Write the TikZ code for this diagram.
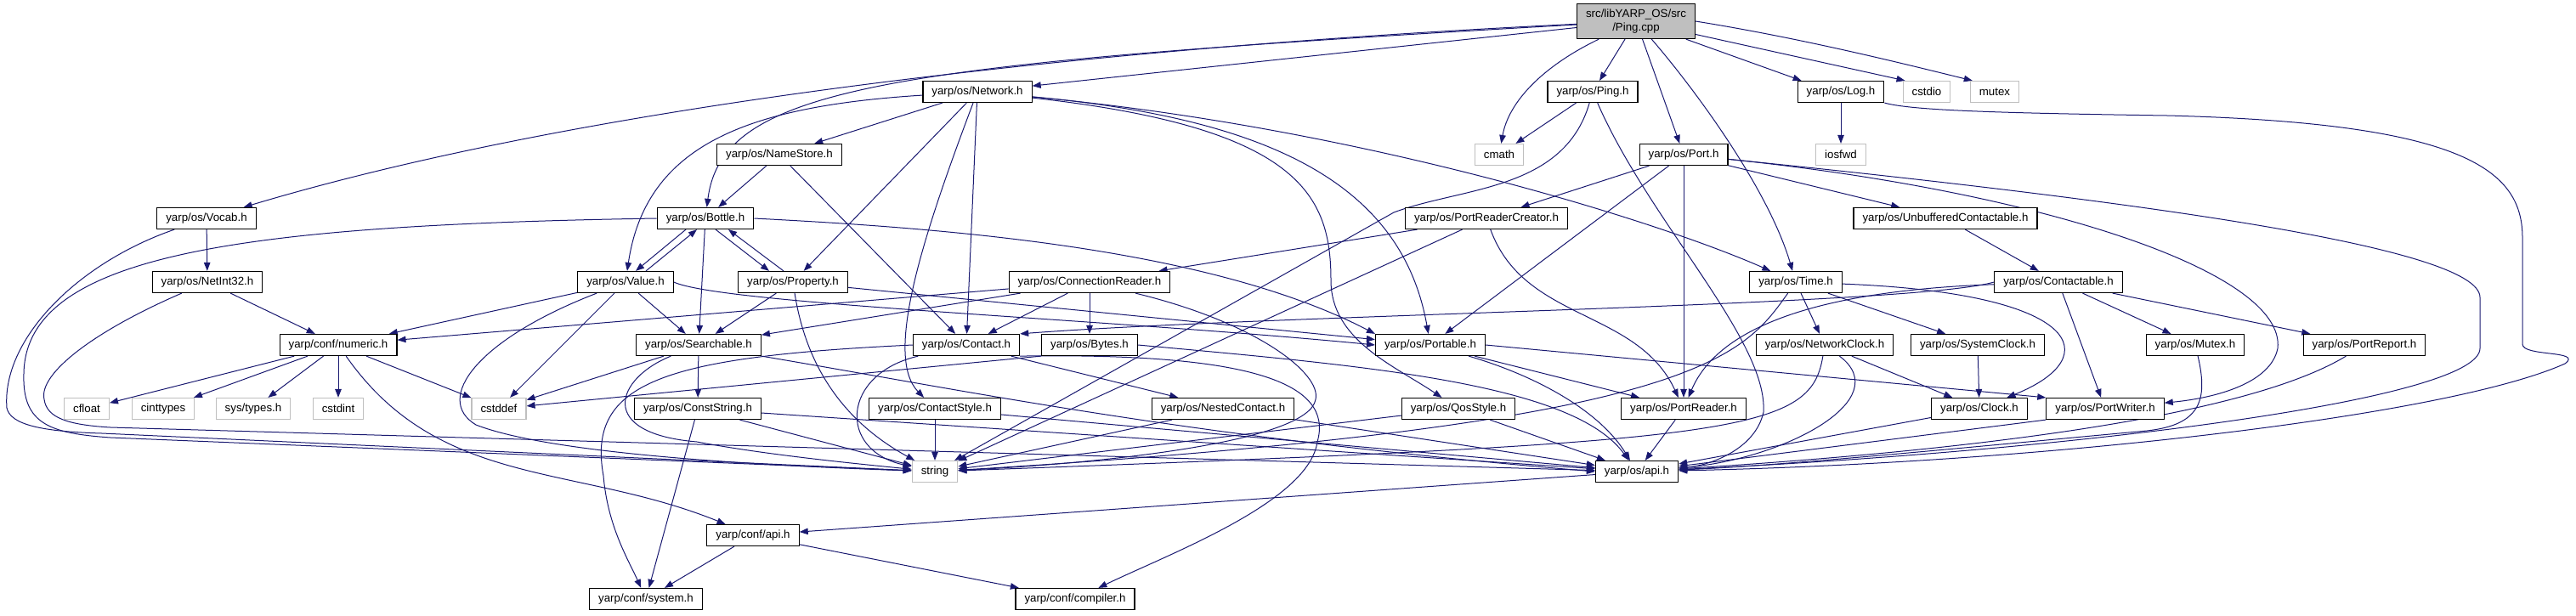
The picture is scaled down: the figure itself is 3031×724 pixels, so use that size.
\documentclass[tikz,border=0pt]{standalone}
\usepackage{fontspec}
\setmainfont{Liberation Sans}
\usetikzlibrary{arrows.meta}
\definecolor{edgeblue}{HTML}{191970}
\definecolor{boxgray}{HTML}{BFBFBF}
\pgfdeclarelayer{bg}
\pgfsetlayers{bg,main}

\begin{document}
\begin{tikzpicture}[x=1pt, y=1pt,
				hdr/.style={draw=black, line width=1.2pt, fill=white, inner xsep=10.5pt, inner ysep=0pt, minimum height=25pt, font=\fontsize{13.3}{15.5}\selectfont},
				sys/.style={hdr, draw=boxgray},
				root/.style={hdr, fill=boxgray, minimum height=41pt, align=center},
				edge/.style={draw=edgeblue, line width=1pt, -{Triangle[length=10pt,width=7.5pt]}}
				]
				\useasboundingbox (0,0) rectangle (3031,-724);
				
				\node[root] (pingcpp) at (1925,-25) {src/libYARP\_OS/src\\/Ping.cpp};
				\node[hdr] (network) at (1150,-108) {yarp/os/Network.h};
				\node[hdr] (pingh) at (1874,-108) {yarp/os/Ping.h};
				\node[hdr] (log) at (2166,-108) {yarp/os/Log.h};
				\node[sys] (cstdio) at (2267,-108) {cstdio};
				\node[sys] (mutex) at (2347,-108) {mutex};
				
				\node[hdr] (namestore) at (917,-182) {yarp/os/NameStore.h};
				\node[sys] (cmath) at (1764,-182) {cmath};
				\node[hdr] (port) at (1981,-182) {yarp/os/Port.h};
				\node[sys] (iosfwd) at (2166,-182) {iosfwd};
				
				\node[hdr] (vocab) at (243,-257) {yarp/os/Vocab.h};
				\node[hdr] (bottle) at (830,-257) {yarp/os/Bottle.h};
				\node[hdr] (prc) at (1749,-257) {yarp/os/PortReaderCreator.h};
				\node[hdr] (unbuf) at (2289,-257) {yarp/os/UnbufferedContactable.h};
				
				\node[hdr] (netint) at (244,-332) {yarp/os/NetInt32.h};
				\node[hdr] (value) at (736,-332) {yarp/os/Value.h};
				\node[hdr] (property) at (933,-332) {yarp/os/Property.h};
				\node[hdr] (connreader) at (1282,-332) {yarp/os/ConnectionReader.h};
				\node[hdr] (time) at (2113,-332) {yarp/os/Time.h};
				\node[hdr] (contactable) at (2422,-332) {yarp/os/Contactable.h};
				
				\node[hdr] (numeric) at (398,-406) {yarp/conf/numeric.h};
				\node[hdr] (searchable) at (822,-406) {yarp/os/Searchable.h};
				\node[hdr] (contact) at (1137,-406) {yarp/os/Contact.h};
				\node[hdr] (bytes) at (1282,-406) {yarp/os/Bytes.h};
				\node[hdr] (portable) at (1683,-406) {yarp/os/Portable.h};
				\node[hdr] (netclock) at (2147,-406) {yarp/os/NetworkClock.h};
				\node[hdr] (sysclock) at (2327,-406) {yarp/os/SystemClock.h};
				\node[hdr] (mutexh) at (2583,-406) {yarp/os/Mutex.h};
				\node[hdr] (portreport) at (2782,-406) {yarp/os/PortReport.h};
				
				\node[sys] (cfloat) at (102,-481) {cfloat};
				\node[sys] (cinttypes) at (192,-481) {cinttypes};
				\node[sys] (systypes) at (298,-481) {sys/types.h};
				\node[sys] (cstdint) at (398,-481) {cstdint};
				\node[sys] (cstddef) at (587,-481) {cstddef};
				\node[hdr] (conststring) at (821,-481) {yarp/os/ConstString.h};
				\node[hdr] (contactstyle) at (1100,-481) {yarp/os/ContactStyle.h};
				\node[hdr] (nested) at (1439,-481) {yarp/os/NestedContact.h};
				\node[hdr] (qos) at (1716,-481) {yarp/os/QosStyle.h};
				\node[hdr] (portreader) at (1981,-481) {yarp/os/PortReader.h};
				\node[hdr] (clock) at (2329,-481) {yarp/os/Clock.h};
				\node[hdr] (portwriter) at (2477,-481) {yarp/os/PortWriter.h};
				
				\node[sys] (string) at (1100,-555) {string};
				\node[hdr] (osapi) at (1926,-555) {yarp/os/api.h};
				\node[hdr] (confapi) at (886,-630) {yarp/conf/api.h};
				\node[hdr] (confsystem) at (760,-705) {yarp/conf/system.h};
				\node[hdr] (compiler) at (1265,-705) {yarp/conf/compiler.h};
				
				\begin{pgfonlayer}{bg}
				\draw[edge] (pingcpp) .. controls (1300,-55) and (700,-120) .. (vocab);
				\draw[edge] (pingcpp) .. controls (1050,-75) and (850,-100) .. (bottle);
				\draw[edge] (pingcpp) -- (network);
				\draw[edge] (pingcpp) .. controls (1815,-78) and (1775,-120) .. (cmath);
				\draw[edge] (pingcpp) -- (pingh);
				\draw[edge] (pingcpp) -- (port);
				\draw[edge] (pingcpp) .. controls (1990,-100) and (2080,-220) .. (time);
				\draw[edge] (pingcpp) -- ([xshift=5pt]log.north west);
				\draw[edge] (pingcpp) -- ([xshift=3pt]cstdio.north west);
				\draw[edge] (pingcpp.east) .. controls (2120,-45) and (2240,-75) .. ([xshift=3pt]mutex.north west);
				
				\draw[edge] (network) .. controls (880,-125) and (760,-170) .. (value);
				\draw[edge] (network) -- (namestore);
				\draw[edge] (network) -- (property);
				\draw[edge] (network) .. controls (1085,-280) and (1040,-420) .. (contactstyle);
				\draw[edge] (network) -- (contact);
				\draw[edge] (network) .. controls (1530,-150) and (1566,-230) .. (1566,-330) .. controls (1566,-400) and (1640,-430) .. (qos);
				\draw[edge] (network) .. controls (1500,-140) and (1650,-220) .. (portable);
				\draw[edge] (network) .. controls (1600,-150) and (1950,-260) .. (time);
				
				\draw[edge] (pingh) -- (cmath);
				\draw[edge] (pingh) .. controls (1840,-225) and (1720,-220) .. (1640,-250) -- (string);
				\draw[edge] (pingh) .. controls (1940,-260) and (2080,-400) .. (2075,-485) .. controls (2065,-530) and (2010,-548) .. (osapi);
				
				\draw[edge] (log) -- (iosfwd);
				\draw[edge] (log.south east) .. controls (2250,-130) and (2350,-133) .. (2550,-136) .. controls (2900,-145) and (2968,-200) .. (2968,-280) -- (2968,-405) .. controls (2968,-420) and (3040,-412) .. (3018,-428) .. controls (2880,-490) and (2400,-545) .. (osapi);
				
				\draw[edge] (port) -- (prc);
				\draw[edge] (port) -- (portable);
				\draw[edge] (port) -- (portreader);
				\draw[edge] (port) -- (unbuf);
				\draw[edge] (port) .. controls (2400,-225) and (2690,-320) .. (2680,-410) .. controls (2672,-450) and (2610,-468) .. (portwriter);
				\draw[edge] (port) .. controls (2500,-235) and (2918,-290) .. (2918,-350) -- (2918,-410) .. controls (2918,-470) and (2450,-530) .. (osapi);
				
				\draw[edge] (time) -- (netclock);
				\draw[edge] (time) -- (sysclock);
				\draw[edge] (time) .. controls (2450,-345) and (2480,-420) .. (clock);
				\draw[edge] (time) .. controls (2050,-420) and (2000,-500) .. (string);
				
				\draw[edge] (unbuf) -- (contactable);
				\draw[edge] (contactable.west) .. controls (2250,-360) and (1500,-370) .. (contact.north east);
				\draw[edge] (contactable) .. controls (2200,-340) and (2030,-365) .. (portreader);
				\draw[edge] (contactable) -- (portwriter);
				\draw[edge] (contactable) -- (mutexh);
				\draw[edge] (contactable) -- (portreport);
				
				\draw[edge] (prc) -- (connreader);
				\draw[edge] (prc) -- (string);
				\draw[edge] (prc) to[out=-70,in=115] (portreader);
				
				\draw[edge] (connreader) -- (numeric);
				\draw[edge] (connreader) -- (searchable);
				\draw[edge] (connreader) -- (contact);
				\draw[edge] (connreader) -- (bytes);
				\draw[edge] (connreader) .. controls (1480,-380) and (1555,-440) .. (1548,-470) .. controls (1540,-520) and (1300,-545) .. (string);
				
				\draw[edge] (namestore) -- (bottle);
				\draw[edge] (namestore) -- (contact);
				
				\draw[edge] ([xshift=-23pt]bottle.south) -- ([xshift=12pt]value.north);
				\draw[edge] ([xshift=24pt]value.north) -- ([xshift=-10pt]bottle.south);
				\draw[edge] ([xshift=12pt]bottle.south) -- ([xshift=-28pt]property.north);
				\draw[edge] ([xshift=-11pt]property.north) -- ([xshift=27pt]bottle.south);
				\draw[edge] (bottle) -- (searchable);
				\draw[edge] (bottle.east) .. controls (1100,-268) and (1420,-290) .. (portable.north west);
				\draw[edge] (bottle.west) .. controls (280,-265) and (30,-300) .. (28,-440) .. controls (26,-500) and (60,-510) .. (130,-515) -- (string);
				
				\draw[edge] (value) -- (numeric);
				\draw[edge] (value) .. controls (560,-400) and (510,-470) .. (560,-500) .. controls (650,-535) and (900,-548) .. (string);
				\draw[edge] (value) -- (cstddef);
				\draw[edge] (value) -- (searchable);
				\draw[edge] (value.east) .. controls (850,-358) and (1300,-375) .. (portable.west);
				
				\draw[edge] (property) -- (searchable);
				\draw[edge] (property) .. controls (950,-440) and (1000,-500) .. (string);
				\draw[edge] (property) -- (portable);
				
				\draw[edge] (vocab) -- (netint);
				\draw[edge] (vocab) .. controls (90,-310) and (2,-400) .. (8,-480) .. controls (12,-500) and (50,-508) .. (120,-510) -- (string);
				\draw[edge] (netint) -- (numeric);
				\draw[edge] (netint) .. controls (110,-390) and (45,-440) .. (52,-470) .. controls (55,-492) and (80,-500) .. (130,-503) -- (osapi);
				
				\draw[edge] (numeric) -- (cfloat);
				\draw[edge] (numeric) -- (cinttypes);
				\draw[edge] (numeric) -- (systypes);
				\draw[edge] (numeric) -- (cstdint);
				\draw[edge] (numeric) -- (cstddef);
				\draw[edge] (numeric) to[out=-55,in=158] (confapi);
				
				\draw[edge] (searchable) -- (cstddef);
				\draw[edge] (searchable) .. controls (725,-445) and (700,-510) .. (820,-520) .. controls (900,-535) and (1000,-545) .. (string);
				\draw[edge] (searchable) -- (conststring);
				\draw[edge] (searchable.south east) .. controls (1150,-462) and (1400,-515) .. (osapi.west);
				
				\draw[edge] (conststring) -- (confsystem);
				\draw[edge] (conststring) -- (string);
				\draw[edge] (conststring) -- (osapi);
				
				\draw[edge] (contact) -- (nested);
				\draw[edge] (contact) .. controls (990,-440) and (985,-530) .. (string);
				\draw[edge] (contact.west) .. controls (780,-420) and (690,-450) .. (710,-560) .. controls (715,-620) and (740,-660) .. (confsystem);
				\draw[edge] (contact.south east) .. controls (1470,-415) and (1570,-450) .. (1550,-520) .. controls (1540,-590) and (1380,-650) .. (compiler);
				
				\draw[edge] (bytes.south west) -- (cstddef);
				\draw[edge] (bytes.east) .. controls (1600,-430) and (1850,-450) .. (osapi);
				
				\draw[edge] (contactstyle) -- (string);
				\draw[edge] (contactstyle) -- (osapi);
				\draw[edge] (nested) -- (string);
				\draw[edge] (nested) -- (osapi);
				\draw[edge] (qos) -- (string);
				\draw[edge] (qos) -- (osapi);
				
				\draw[edge] (portable) -- (portreader);
				\draw[edge] (portable.east) -- (portwriter.north west);
				\draw[edge] (portable) .. controls (1800,-440) and (1880,-480) .. (osapi);
				\draw[edge] (portreader) -- (osapi);
				
				\draw[edge] (netclock) .. controls (2130,-510) and (2050,-520) .. (string);
				\draw[edge] (netclock) .. controls (2232,-470) and (2100,-540) .. (osapi);
				\draw[edge] (netclock) -- (clock);
				\draw[edge] (sysclock) -- (clock);
				\draw[edge] (clock) -- (osapi);
				\draw[edge] (portwriter.south west) -- (osapi);
				\draw[edge] (mutexh) .. controls (2598,-470) and (2590,-500) .. (2526,-507) .. controls (2330,-525) and (2100,-548) .. (osapi);
				\draw[edge] (portreport) .. controls (2660,-480) and (2400,-525) .. (osapi);
				
				\draw[edge] (osapi) -- (confapi);
				\draw[edge] (confapi) -- (confsystem);
				\draw[edge] (confapi) -- (compiler);
				\end{pgfonlayer}
				
			\end{tikzpicture}
\end{document}
